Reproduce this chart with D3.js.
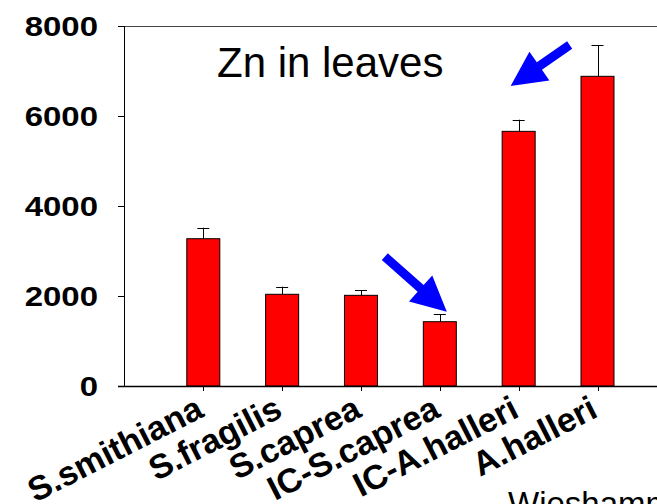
<!DOCTYPE html>
<html>
<head>
<meta charset="utf-8">
<script src="https://d3js.org/d3.v7.min.js"></script>
<style>
  body { margin: 0; background: #fff; }
  text { font-family: "Liberation Sans", Arial, sans-serif; }
</style>
</head>
<body>
<div id="chart"></div>
<script>
// data
var species = ["S.smithiana", "S.fragilis", "S.caprea", "IC-S.caprea", "IC-A.halleri", "A.halleri"];
var znLeaves = [3273, 2038, 2015, 1429, 5659, 6882];
var znError = [245, 170, 112, 164, 259, 689];
var yTicks = [0, 2000, 4000, 6000, 8000];
var titleText = "Zn in leaves";
var sourceText = "Wieshammer et al. 2007";

// arrows: category they point at, value of tip and tail, pixel offsets from band centre
var arrowCat = ["IC-A.halleri", "IC-S.caprea"];
var arrowTip = [6667, 1651];
var arrowTail = [7578, 2873];
var arrowTipDx = [-8, 7];
var arrowTailDx = [51, -55];

var width = 657, height = 504;

var svg = d3.select("#chart").append("svg")
    .attr("width", width)
    .attr("height", height);

var y = d3.scaleLinear().domain([0, 8000]).range([386, 26]);
var x = d3.scalePoint().domain(species).range([203.3, 597.5]);
var axisX = 124.5;
var barW = 33;

// frame top line
svg.append("line")
    .attr("x1", 118).attr("x2", width)
    .attr("y1", y(8000) + 0.5).attr("y2", y(8000) + 0.5)
    .attr("stroke", "#444").attr("stroke-width", 1);

// y axis
svg.append("line")
    .attr("x1", axisX).attr("x2", axisX)
    .attr("y1", y(8000)).attr("y2", y(0))
    .attr("stroke", "#000").attr("stroke-width", 1);

svg.selectAll(".ytick")
    .data(yTicks)
    .enter().append("line")
    .attr("class", "ytick")
    .attr("x1", 118).attr("x2", axisX)
    .attr("y1", function(d) { return Math.round(y(d)) + 0.5; })
    .attr("y2", function(d) { return Math.round(y(d)) + 0.5; })
    .attr("stroke", "#000");

svg.selectAll(".ylab")
    .data(yTicks)
    .enter().append("text")
    .attr("class", "ylab")
    .attr("transform", function(d) {
        return "translate(98," + (y(d) + 10) + ") scale(1.22,1)";
    })
    .attr("text-anchor", "end")
    .style("font-size", "27px")
    .style("font-weight", "bold")
    .text(function(d) { return d; });

// bars
svg.selectAll(".bar")
    .data(species)
    .enter().append("rect")
    .attr("class", "bar")
    .attr("x", function(d) { return x(d) - barW / 2; })
    .attr("y", function(d, i) { return y(znLeaves[i]); })
    .attr("width", barW)
    .attr("height", function(d, i) { return y(0) - y(znLeaves[i]); })
    .attr("fill", "#ff0000")
    .attr("stroke", "#000")
    .attr("stroke-width", 1);

// error bars (upper only)
var err = svg.append("g").attr("stroke", "#000").attr("stroke-width", 1);
err.selectAll(".ev")
    .data(species)
    .enter().append("line")
    .attr("x1", function(d) { return Math.round(x(d)) + 0.5; })
    .attr("x2", function(d) { return Math.round(x(d)) + 0.5; })
    .attr("y1", function(d, i) { return y(znLeaves[i]); })
    .attr("y2", function(d, i) { return y(znLeaves[i] + znError[i]); });
err.selectAll(".eh")
    .data(species)
    .enter().append("line")
    .attr("x1", function(d) { return x(d) - 6; })
    .attr("x2", function(d) { return x(d) + 6; })
    .attr("y1", function(d, i) { return Math.round(y(znLeaves[i] + znError[i])) + 0.5; })
    .attr("y2", function(d, i) { return Math.round(y(znLeaves[i] + znError[i])) + 0.5; });

// x axis
svg.append("line")
    .attr("x1", 118).attr("x2", width)
    .attr("y1", y(0) + 0.5).attr("y2", y(0) + 0.5)
    .attr("stroke", "#000").attr("stroke-width", 1.3);

svg.selectAll(".xtick")
    .data(species)
    .enter().append("line")
    .attr("x1", function(d) { return Math.round(x(d)) + 0.5; })
    .attr("x2", function(d) { return Math.round(x(d)) + 0.5; })
    .attr("y1", y(0)).attr("y2", y(0) + 5)
    .attr("stroke", "#000");

svg.selectAll(".xlab")
    .data(species)
    .enter().append("text")
    .attr("class", "xlab")
    .attr("transform", function(d) {
        return "translate(" + (x(d) + 2) + "," + (y(0) + 30) + ") rotate(-27)";
    })
    .attr("text-anchor", "end")
    .style("font-size", "34px")
    .style("font-weight", "bold")
    .text(function(d) { return d; });

// title
svg.append("text")
    .attr("x", 217).attr("y", 77)
    .style("font-size", "42px")
    .text(titleText);

// arrows
function arrowPath(x1, y1, x2, y2) {
    // x1,y1 tail; x2,y2 tip
    var dx = x2 - x1, dy = y2 - y1;
    var len = Math.sqrt(dx * dx + dy * dy);
    var ux = dx / len, uy = dy / len;
    var nx = -uy, ny = ux;
    var headL = 35, headW = 17.5, shaftW = 4.5;
    var bx = x2 - ux * headL, by = y2 - uy * headL;
    var pts = [
        [x1 + nx * shaftW, y1 + ny * shaftW],
        [bx + nx * shaftW, by + ny * shaftW],
        [bx + nx * headW, by + ny * headW],
        [x2, y2],
        [bx - nx * headW, by - ny * headW],
        [bx - nx * shaftW, by - ny * shaftW],
        [x1 - nx * shaftW, y1 - ny * shaftW]
    ];
    return "M" + pts.map(function(p) { return p[0] + "," + p[1]; }).join("L") + "Z";
}

svg.selectAll(".arrow")
    .data(arrowCat)
    .enter().append("path")
    .attr("class", "arrow")
    .attr("d", function(d, i) {
        return arrowPath(x(d) + arrowTailDx[i], y(arrowTail[i]),
                         x(d) + arrowTipDx[i], y(arrowTip[i]));
    })
    .attr("fill", "#0000ff");

// source, cut off at the bottom edge as in the original
svg.append("text")
    .attr("x", 508).attr("y", 515)
    .style("font-size", "33px")
    .text(sourceText);
</script>
</body>
</html>
